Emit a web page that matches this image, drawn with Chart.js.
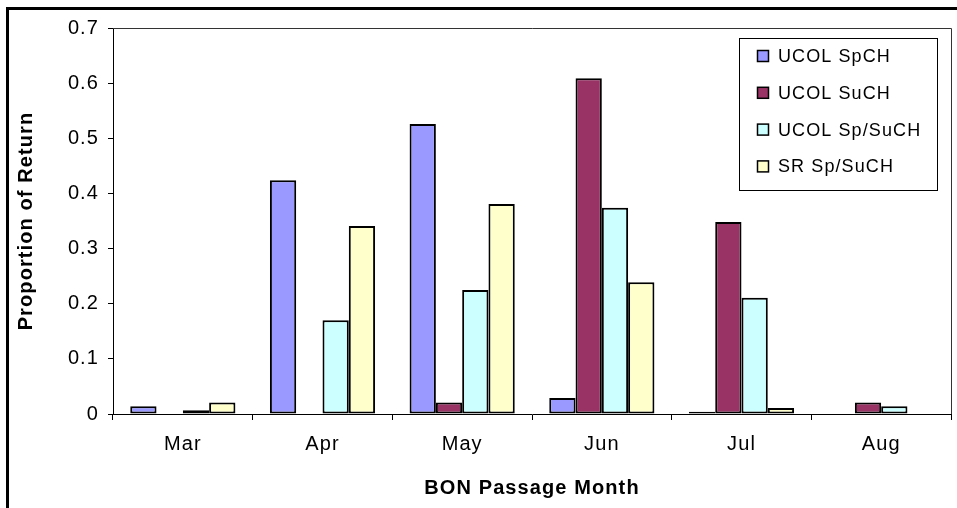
<!DOCTYPE html>
<html>
<head>
<meta charset="utf-8">
<script src="https://cdn.jsdelivr.net/npm/chart.js@4.4.1/dist/chart.umd.min.js"></script>
<style>
  html, body { margin: 0; padding: 0; background: #fff; overflow: hidden; }
  #wrap { position: relative; width: 957px; height: 508px; overflow: hidden; }
  #frame { position: absolute; left: 6px; top: 7px; width: 1200px; height: 800px;
           border-left: 3px solid #000; border-top: 3px solid #000; box-sizing: border-box; }
  canvas { position: absolute; left: 0; top: 0; }
</style>
</head>
<body>
<div id="wrap">
  <div id="frame"></div>
  <canvas id="c" width="957" height="508"></canvas>
</div>
<script>
const categories = ['Mar', 'Apr', 'May', 'Jun', 'Jul', 'Aug'];
const seriesNames = ['UCOL SpCH', 'UCOL SuCH', 'UCOL Sp/SuCH', 'SR Sp/SuCH'];
const ucolSpCH   = [0.014, 0.424, 0.526, 0.029, 0.004, 0];
const ucolSuCH   = [0, 0, 0.021, 0.609, 0.348, 0.021];
const ucolSpSuCH = [0.007, 0.170, 0.225, 0.374, 0.211, 0.014];
const srSpSuCH   = [0.021, 0.341, 0.381, 0.239, 0.011, 0];
const yTickLabels = ['0', '0.1', '0.2', '0.3', '0.4', '0.5', '0.6', '0.7'];
const seriesColors = ['#9999FF', '#993366', '#CCFFFF', '#FFFFCC'];
const xTitle = 'BON Passage Month';
const yTitle = 'Proportion of Return';

const FONT = '"Liberation Sans", Arial, sans-serif';
const SPACING = '1.1px';

const seriesValues = [ucolSpCH, ucolSuCH, ucolSpSuCH, srSpSuCH];

const spacingPlugin = {
  id: 'spacing',
  beforeDraw(chart) { chart.ctx.letterSpacing = SPACING; }
};

const plotBorder = {
  id: 'plotBorder',
  beforeDatasetsDraw(chart) {
    const { ctx, chartArea: a } = chart;
    ctx.save();
    ctx.strokeStyle = '#333';
    ctx.lineWidth = 1;
    ctx.beginPath();
    ctx.moveTo(a.left, a.top + 0.5);
    ctx.lineTo(a.right + 0.5, a.top + 0.5);
    ctx.lineTo(a.right + 0.5, a.bottom);
    ctx.stroke();
    ctx.restore();
  }
};

const boxLegend = {
  id: 'boxLegend',
  afterDraw(chart) {
    const ctx = chart.ctx;
    const bx = 739.5, by = 38.5, bw = 198, bh = 152;
    ctx.save();
    ctx.fillStyle = '#fff';
    ctx.fillRect(bx, by, bw, bh);
    ctx.strokeStyle = '#000';
    ctx.lineWidth = 1;
    ctx.strokeRect(bx, by, bw, bh);
    ctx.font = '18px ' + FONT;
    ctx.letterSpacing = '1.1px';
    ctx.textBaseline = 'middle';
    ctx.textAlign = 'left';
    chart.data.datasets.forEach((ds, i) => {
      const cy = 56 + i * 36.8;
      ctx.fillStyle = ds.backgroundColor;
      ctx.fillRect(757.5, cy - 5.5, 11, 11);
      ctx.strokeStyle = '#000';
      ctx.lineWidth = 1.5;
      ctx.strokeRect(757.5, cy - 5.5, 11, 11);
      ctx.fillStyle = '#000';
      ctx.fillText(ds.label, 778, cy + 1);
    });
    ctx.restore();
  }
};

new Chart(document.getElementById('c'), {
  type: 'bar',
  data: {
    labels: categories,
    datasets: seriesNames.map((name, i) => ({
      label: name,
      data: seriesValues[i],
      backgroundColor: seriesColors[i],
      borderColor: '#000',
      borderWidth: (c) => (c.raw === 0 ? 0 : 2),
      borderSkipped: false,
      categoryPercentage: 0.753,
      barPercentage: 1.0
    }))
  },
  options: {
    responsive: false,
    animation: false,
    devicePixelRatio: 1,
    layout: { padding: { top: 28, right: 6, left: 0, bottom: 0 } },
    plugins: { legend: { display: false }, tooltip: { enabled: false } },
    scales: {
      x: {
        offset: true,
        afterFit: (s) => { s.height = 94; },
        grid: { display: true, offset: true, drawOnChartArea: false, drawTicks: true,
                tickLength: 6, color: '#000', lineWidth: 1 },
        border: { display: true, color: '#000', width: 1 },
        ticks: { color: '#000', font: { family: FONT, size: 20 }, padding: 12, maxRotation: 0 },
        title: { display: true, text: xTitle, color: '#000',
                 font: { family: FONT, size: 20, weight: 'bold' }, padding: { top: 0, bottom: 8 } }
      },
      y: {
        min: 0, max: 0.7,
        afterFit: (s) => { s.width = 113; },
        afterBuildTicks: (s) => { s.ticks = yTickLabels.map((t) => ({ value: parseFloat(t) })); },
        grid: { display: true, drawOnChartArea: false, drawTicks: true, tickLength: 5,
                color: '#000', lineWidth: 1 },
        border: { display: true, color: '#000', width: 1 },
        ticks: { color: '#000', font: { family: FONT, size: 20 }, padding: 9,
                 callback: (v, idx) => yTickLabels[idx] },
        title: { display: true, text: yTitle, color: '#000',
                 font: { family: FONT, size: 20, weight: 'bold' }, padding: { top: 14, bottom: 0 } }
      }
    }
  },
  plugins: [spacingPlugin, plotBorder, boxLegend]
});
</script>
</body>
</html>
